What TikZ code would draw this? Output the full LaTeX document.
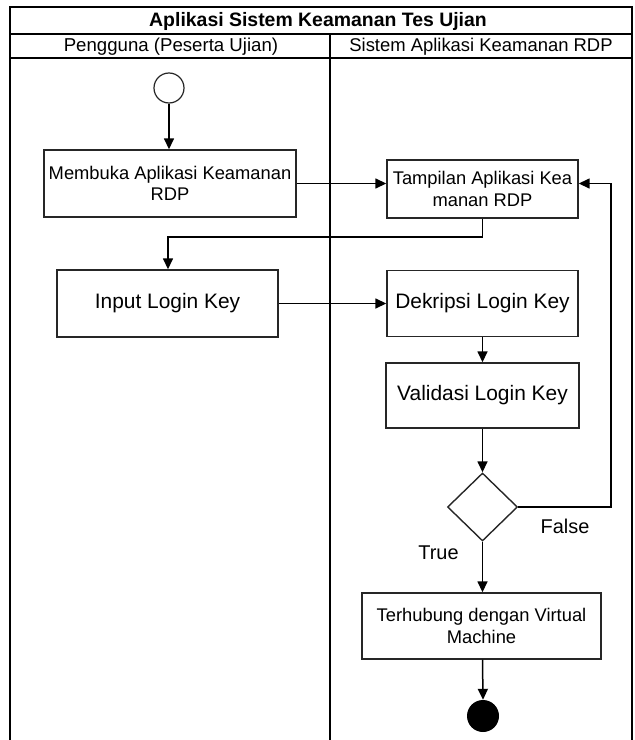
\documentclass[tikz,border=0pt]{standalone}
\usepackage{fontspec}
\setmainfont{Liberation Sans}
\usetikzlibrary{arrows.meta,shapes.geometric}

\tikzset{
  lane/.style={line width=2bp, black},
  actbox/.style={draw=black!85, line width=1.4bp, rectangle, inner sep=0pt,
    align=center, font=\fontsize{21}{24}\selectfont},
  actboxsmall/.style={actbox, font=\fontsize{18.4}{21.5}\selectfont},
  flow/.style={line width=1.5bp, black, -{Triangle[length=11bp,width=10bp]}},
  decision/.style={draw=black!85, line width=1.4bp, diamond, inner sep=0pt,
    minimum width=70bp, minimum height=68bp},
  guard/.style={font=\fontsize{20}{22}\selectfont, inner sep=0pt},
}

\begin{document}
\begin{tikzpicture}[x=1bp, y=-1bp]
  \useasboundingbox (0,0) rectangle (635,740);

  % swimlane frame
  \draw[lane] (10,740) -- (10,7) -- (632,7) -- (632,740);
  \draw[lane] (10,34) -- (632,34);
  \draw[lane] (10,58) -- (632,58);
  \draw[lane] (330,34) -- (330,740);
  \node[font=\bfseries\fontsize{19.5}{22}\selectfont] (title) at (318,21) {Aplikasi Sistem Keamanan Tes Ujian};
  \node[font=\fontsize{18.7}{21}\selectfont] (laneA) at (171,46.5) {Pengguna (Peserta Ujian)};
  \node[font=\fontsize{18.5}{21}\selectfont] (laneB) at (481,46.5) {Sistem Aplikasi Keamanan RDP};

  % start and end
  \node[draw=black!85, line width=1.2bp, circle, minimum size=30bp, inner sep=0pt] (start) at (169,88) {};
  \node[fill=black, circle, minimum size=32bp, inner sep=0pt] (finish) at (483,716) {};

  % actions
  \node[actboxsmall, minimum width=252bp, minimum height=67bp] (membuka) at (170,183.5) {Membuka Aplikasi Keamanan\\RDP};
  \node[actboxsmall, minimum width=191bp, minimum height=58bp] (tampil) at (482.5,189) {Tampilan Aplikasi Kea\\manan RDP};
  \node[actbox, minimum width=221bp, minimum height=67bp] (input) at (167.5,303.5) {Input Login Key};
  \node[actbox, minimum width=191bp, minimum height=66bp] (dekrip) at (482.5,303.5) {Dekripsi Login Key};
  \node[actbox, minimum width=193bp, minimum height=65bp] (valid) at (482.5,395.5) {Validasi Login Key};
  \node[decision] (check) at (482.5,507) {};
  \node[actboxsmall, minimum width=239bp, minimum height=66bp] (hubung) at (481.5,626) {Terhubung dengan Virtual\\Machine};

  % turning points
  \coordinate (backR) at (611,507);
  \coordinate (downL) at (168,237);

  % connectors
  \draw[flow] (start.south) -- (start.south |- membuka.north);
  \draw[flow] (membuka.east) -- (membuka.east -| tampil.west);
  \draw[flow] (tampil.south -| check) -- (check |- downL) -- (downL) -- (downL |- input.north);
  \draw[flow] (input.east) -- (dekrip.west);
  \draw[flow] (dekrip.south -| check) -- (check |- valid.north);
  \draw[flow] (valid.south -| check) -- (check.north);
  \draw[flow] (check.east) -- (backR) -- (backR |- membuka.east) -- (tampil.east |- membuka.east);
  \draw[flow] (check.south) -- (check |- hubung.north);
  \draw[flow] (hubung.south -| check) -- (finish.north);

  % guards
  \node[guard] (falseLbl) at (565,526) {False};
  \node[guard] (trueLbl) at (438.5,553) {True};
\end{tikzpicture}
\end{document}
